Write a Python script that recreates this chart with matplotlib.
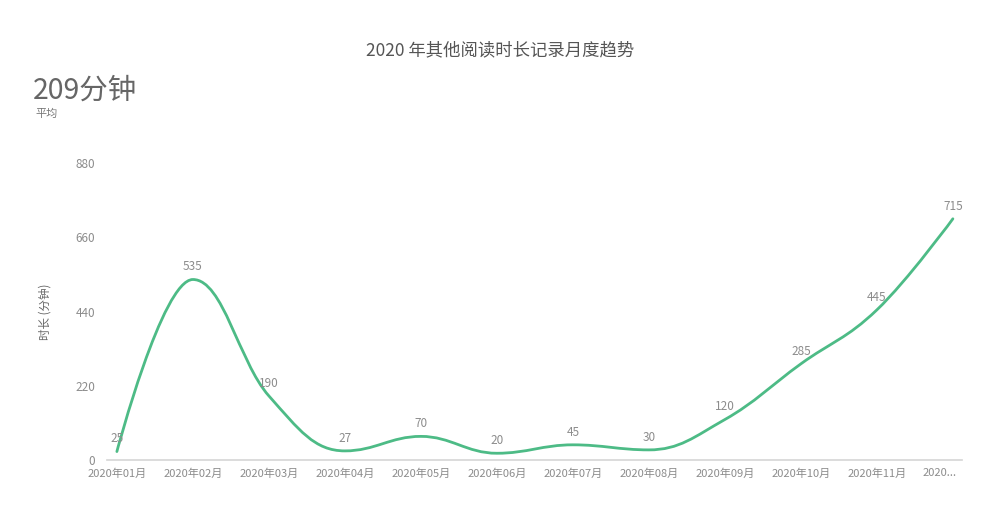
import numpy as np
import matplotlib
matplotlib.use('Agg')
import matplotlib.pyplot as plt
import matplotlib.transforms as mtransforms
from matplotlib.path import Path
from matplotlib.patches import PathPatch

plt.rcParams['font.family'] = ['Noto Sans CJK SC', 'DejaVu Sans']

months = ['2020年01月', '2020年02月', '2020年03月', '2020年04月', '2020年05月', '2020年06月',
          '2020年07月', '2020年08月', '2020年09月', '2020年10月', '2020年11月', '2020...']
minutes = [25, 535, 190, 27, 70, 20, 45, 30, 120, 285, 445, 715]
yticks = [0, 220, 440, 660, 880]

GREEN = '#4dbb86'
GRAY = '#8c8c8c'

fig = plt.figure(figsize=(10, 5.11), dpi=100)
ax = fig.add_axes([0.107, 0.0998, 0.855, 0.581])

x = np.arange(len(minutes), dtype=float)
y = np.array(minutes, dtype=float)

# spline smoothing: bezier control points, flat tangent at local extremes
smoothing = 1.5
denom = smoothing + 1
n = len(x)
left = [(x[i], y[i]) for i in range(n)]
right = [(x[i], y[i]) for i in range(n)]
for i in range(1, n - 1):
    lx, ly = x[i - 1], y[i - 1]
    nx, ny = x[i + 1], y[i + 1]
    lcx = (smoothing * x[i] + lx) / denom
    lcy = (smoothing * y[i] + ly) / denom
    rcx = (smoothing * x[i] + nx) / denom
    rcy = (smoothing * y[i] + ny) / denom
    corr = (rcy - lcy) * (rcx - x[i]) / (rcx - lcx) + y[i] - rcy
    lcy += corr
    rcy += corr
    if lcy > ly and lcy > y[i]:
        lcy = max(ly, y[i]); rcy = 2 * y[i] - lcy
    elif lcy < ly and lcy < y[i]:
        lcy = min(ly, y[i]); rcy = 2 * y[i] - lcy
    if rcy > ny and rcy > y[i]:
        rcy = max(ny, y[i]); lcy = 2 * y[i] - rcy
    elif rcy < ny and rcy < y[i]:
        rcy = min(ny, y[i]); lcy = 2 * y[i] - rcy
    left[i] = (lcx, lcy)
    right[i] = (rcx, rcy)

verts = [(x[0], y[0])]
codes = [Path.MOVETO]
for i in range(1, n):
    verts += [right[i - 1], left[i], (x[i], y[i])]
    codes += [Path.CURVE4] * 3
ax.add_patch(PathPatch(Path(verts, codes), facecolor='none', edgecolor=GREEN,
                       lw=2.0, capstyle='round', joinstyle='round'))

for xi, v in zip(x, minutes):
    ax.annotate(str(v), (xi, v), xytext=(0, 4.5), textcoords='offset points',
                ha='center', va='bottom', fontsize=8.5, color=GRAY)

ax.set_xlim(-0.13, 11.12)
ax.set_ylim(0, 880)
ax.set_yticks(yticks)
ax.set_yticklabels([str(t) for t in yticks])
ax.set_xticks(x)
ax.set_xticklabels(months)
ax.tick_params(axis='y', length=0, pad=8.5, labelsize=8.5, labelcolor=GRAY)
ax.tick_params(axis='x', length=0, pad=6, labelsize=8, labelcolor=GRAY)
# truncated last label sits a bit left of its tick
last = ax.get_xticklabels()[-1]
last.set_transform(last.get_transform() +
                   mtransforms.ScaledTranslation(-13 / 100, 0, fig.dpi_scale_trans))
for s in ['top', 'right', 'left']:
    ax.spines[s].set_visible(False)
ax.spines['bottom'].set_color('#d5d5d5')
ax.spines['bottom'].set_linewidth(1.2)

ax.set_ylabel('时长 (分钟)', fontsize=8.3, color='#666666')
ax.yaxis.set_label_coords(-0.065, 0.5)

fig.text(0.5, 0.902, '2020 年其他阅读时长记录月度趋势', ha='center', va='center',
         fontsize=12.5, color='#555555')
fig.text(0.033, 0.822, '209分钟', ha='left', va='center', fontsize=20.5, color='#666666')
fig.text(0.035, 0.778, '平均', ha='left', va='center', fontsize=8, color='#777777')

fig.savefig('out.png', dpi=100, facecolor='white')
